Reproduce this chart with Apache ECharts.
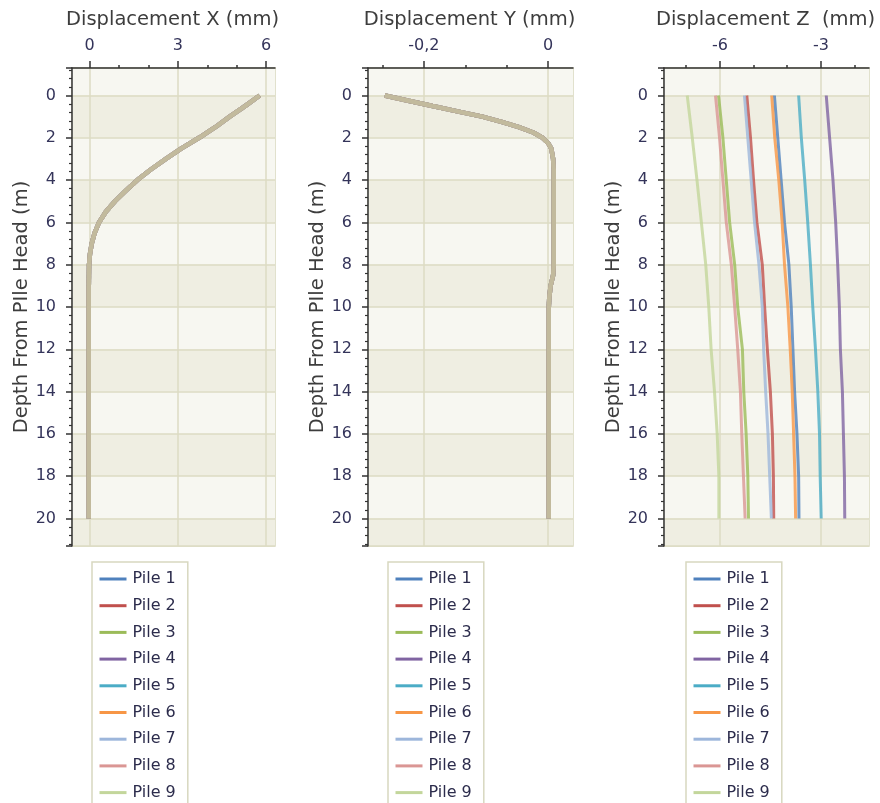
<!DOCTYPE html>
<html><head><meta charset="utf-8">
<script src="https://cdn.jsdelivr.net/npm/echarts@6/dist/echarts.min.js"></script>
<style>html,body{margin:0;padding:0;background:#fff}#c{width:880px;height:803px}</style>
</head><body><div id="c"></div>
<script>
// ---------- data ----------
const pileNames = ['Pile 1','Pile 2','Pile 3','Pile 4','Pile 5','Pile 6','Pile 7','Pile 8','Pile 9'];
const pileColors = ['#4F81BD','#C0504D','#9BBB59','#8064A2','#4BACC6','#F79646','#9DB6DB','#DA9694','#C3D69B'];

// Displacement X (mm) — all nine piles coincide
const depthX = [0,0.5,1,1.5,2,2.5,3,3.5,4,4.5,5,5.5,6,6.5,7,7.5,8,9,10,12,14,16,18,20];
const dispX  = [5.78,5.28,4.76,4.27,3.72,3.12,2.59,2.08,1.62,1.23,0.86,0.55,0.32,0.17,0.07,0.01,-0.02,-0.03,-0.03,-0.03,-0.03,-0.03,-0.03,-0.03];

// Displacement Y (mm) — all nine piles coincide
const depthY = [0,0.25,0.5,0.75,1,1.25,1.5,1.75,2,2.25,2.5,3,3.5,4,5,6,7,8,8.5,9,9.5,10,12,14,16,18,20];
const dispY  = [-0.263,-0.225,-0.186,-0.146,-0.106,-0.075,-0.047,-0.024,-0.009,0.0,0.005,0.008,0.009,0.009,0.009,0.009,0.009,0.009,0.008,0.004,0.002,0.001,0.001,0.001,0.001,0.001,0.001];

// Displacement Z (mm)
const depthZ = [0,2,4,6,8,10,12,14,16,18,20];
const dispZ_p1 = [-4.38,-4.28,-4.18,-4.08,-3.95,-3.88,-3.83,-3.78,-3.71,-3.66,-3.65];
const dispZ_p2 = [-5.20,-5.09,-5.00,-4.90,-4.74,-4.67,-4.59,-4.50,-4.44,-4.41,-4.40];
const dispZ_p3 = [-6.04,-5.91,-5.81,-5.71,-5.56,-5.47,-5.33,-5.29,-5.22,-5.17,-5.15];
const dispZ_p4 = [-2.84,-2.74,-2.64,-2.56,-2.50,-2.45,-2.42,-2.36,-2.33,-2.30,-2.29];
const dispZ_p5 = [-3.66,-3.58,-3.48,-3.39,-3.31,-3.24,-3.16,-3.09,-3.04,-3.02,-2.99];
const dispZ_p6 = [-4.46,-4.37,-4.25,-4.15,-4.08,-3.98,-3.91,-3.85,-3.81,-3.77,-3.75];
const dispZ_p7 = [-5.27,-5.17,-5.07,-4.97,-4.84,-4.74,-4.70,-4.64,-4.57,-4.52,-4.47];
const dispZ_p8 = [-6.13,-6.01,-5.91,-5.81,-5.66,-5.56,-5.47,-5.39,-5.35,-5.30,-5.25];
const dispZ_p9 = [-6.97,-6.82,-6.68,-6.55,-6.42,-6.33,-6.26,-6.16,-6.08,-6.03,-6.03];
const dispZ = [dispZ_p1,dispZ_p2,dispZ_p3,dispZ_p4,dispZ_p5,dispZ_p6,dispZ_p7,dispZ_p8,dispZ_p9];

// ticks
const ticksX = [0,3,6];         const minorX = [1,2,4,5];
const ticksY = [-0.2,0];        const minorY = [-0.2667,-0.1333,-0.0667];
const ticksZ = [-6,-3];         const minorZ = [-7,-5,-4,-2];
const depthTicks = [0,2,4,6,8,10,12,14,16,18,20];
const depthMin = -1.3, depthMax = 21.3;
const titles = ['Displacement X (mm)','Displacement Y (mm)','Displacement Z  (mm)'];
const yName = 'Depth From PIle Head (m)';

// ---------- build ----------
const FONT = '"DejaVu Sans", Verdana, sans-serif';
const LABEL_COLOR = '#34345a';
const TEXT_COLOR = '#3d3d3d';
const AXIS_COLOR = '#333333';
const GRID_LINE = '#dcdbc3';

const depthMinor = [];
for (let v = -12; v <= 212; v += 4) { if (v % 20 !== 0) depthMinor.push(v / 10); }

const panels = [
  {left:72,  width:203, min:-0.6,  max:6.3,  ticks:ticksX, minor:minorX, fmt:v=>String(v), legendLeft:92,  lw:4.5, op:0.5},
  {left:368, width:205, min:-0.29, max:0.04, ticks:ticksY, minor:minorY, fmt:v=>(v===0?'0':String(v).replace('.',',')), legendLeft:388, lw:4.5, op:0.5},
  {left:664, width:205, min:-7.66, max:-1.57, ticks:ticksZ, minor:minorZ, fmt:v=>String(v), legendLeft:686, lw:3, op:0.8}
];
const TOP = 68, HEIGHT = 478;

const grid = [], xAxis = [], yAxis = [], series = [], legend = [], graphic = [];
panels.forEach((p, i) => {
  grid.push({left:p.left, top:TOP, width:p.width, height:HEIGHT, show:true,
    backgroundColor:'#f3f3ea', borderColor:'#d8d7bd', borderWidth:1.5});
  xAxis.push({gridIndex:i, type:'value', position:'top', min:p.min, max:p.max,
    axisLine:{show:true, onZero:false, lineStyle:{color:AXIS_COLOR, width:1.5}},
    axisTick:{show:true, length:7, customValues:p.ticks, lineStyle:{color:AXIS_COLOR, width:1.5}},
    axisLabel:{show:true, customValues:p.ticks, margin:14, formatter:p.fmt, color:LABEL_COLOR, fontSize:16, fontFamily:FONT},
    splitLine:{show:true, lineStyle:{color:GRID_LINE, width:1.5}}});
  xAxis.push({gridIndex:i, type:'value', position:'top', min:p.min, max:p.max,
    axisLine:{show:false, onZero:false}, axisLabel:{show:false}, splitLine:{show:false},
    axisTick:{show:true, length:3, customValues:p.minor, lineStyle:{color:AXIS_COLOR, width:1.5}}});
  yAxis.push({gridIndex:i, type:'value', position:'left', inverse:true, min:depthMin, max:depthMax,
    name:yName, nameLocation:'middle', nameRotate:90, nameGap:40,
    nameTextStyle:{color:TEXT_COLOR, fontSize:19.5, fontFamily:FONT},
    axisLine:{show:true, onZero:false, lineStyle:{color:AXIS_COLOR, width:1.5}},
    axisTick:{show:true, length:6, customValues:[depthMin].concat(depthTicks, [depthMax]), lineStyle:{color:AXIS_COLOR, width:1.5}},
    axisLabel:{show:true, customValues:depthTicks, margin:16, color:LABEL_COLOR, fontSize:16, fontFamily:FONT},
    splitLine:{show:true, lineStyle:{color:GRID_LINE, width:1.5}},
    splitArea:{show:true, areaStyle:{color:['#f7f7f1','#efeee2']}}});
  yAxis.push({gridIndex:i, type:'value', position:'left', inverse:true, min:depthMin, max:depthMax,
    axisLine:{show:false, onZero:false}, axisLabel:{show:false}, splitLine:{show:false}, splitArea:{show:false},
    axisTick:{show:true, length:3, customValues:depthMinor, lineStyle:{color:AXIS_COLOR, width:1.2}}});

  pileNames.forEach((name, k) => {
    let data;
    if (i === 0) data = depthX.map((d, j) => [dispX[j], d]);
    else if (i === 1) data = depthY.map((d, j) => [dispY[j], d]);
    else data = depthZ.map((d, j) => [dispZ[k][j], d]);
    series.push({type:'line', name, xAxisIndex:2*i, yAxisIndex:2*i, data,
      symbol:'none', smooth:false, silent:true,
      lineStyle:{color:pileColors[k], width:p.lw, opacity:p.op},
      itemStyle:{color:pileColors[k]}, emphasis:{disabled:true}});
  });

  legend.push({type:'plain', orient:'vertical', left:p.legendLeft, top:562, height:260, data:pileNames, selectedMode:false,
    itemWidth:27, itemHeight:14, itemGap:10.7, padding:[9,12,9,6],
    borderColor:'#d8d8c0', borderWidth:1.5, backgroundColor:'#ffffff',
    lineStyle:{opacity:1, width:3},
    itemStyle:{opacity:0, borderWidth:0},
    textStyle:{color:'#2c2c4c', fontSize:16, lineHeight:14, fontFamily:FONT, padding:[0,0,0,1]}});

  graphic.push({type:'text', x:p.left + p.width/2 - 1, y:20,
    style:{text:titles[i], fill:TEXT_COLOR, font:'19.5px ' + FONT, align:'center', verticalAlign:'middle'}});
});

const chart = echarts.init(document.getElementById('c'), null, {renderer:'canvas'});
chart.setOption({animation:false, backgroundColor:'#ffffff', grid, xAxis, yAxis, series, legend, graphic});
</script></body></html>
